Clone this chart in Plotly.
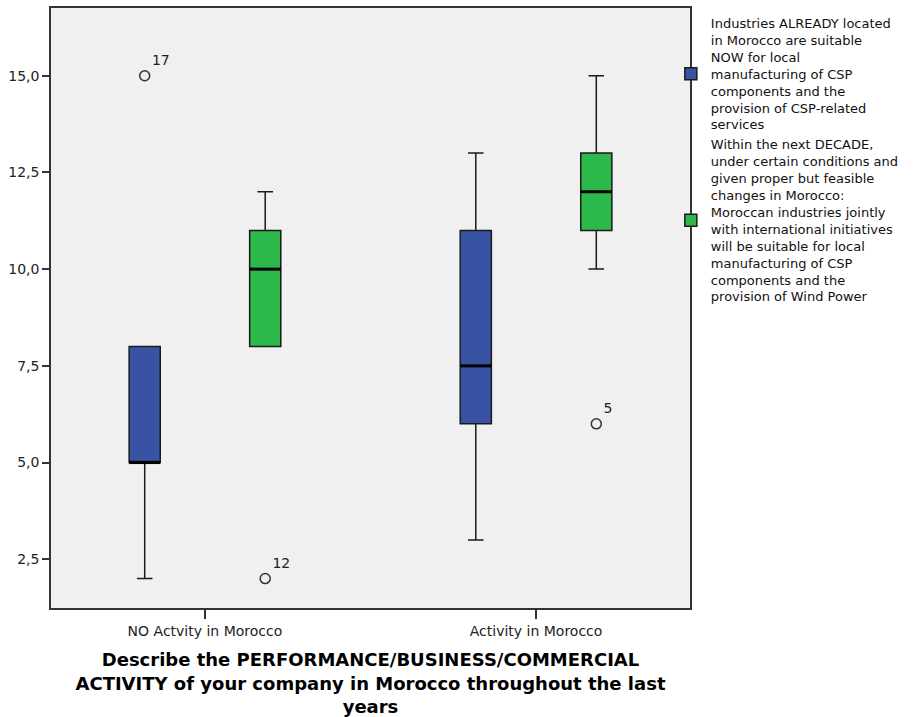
import plotly.graph_objects as go

categories = ["NO Actvity in Morocco", "Activity in Morocco"]
series_names = [
    "Industries ALREADY located<br>in Morocco are suitable<br>NOW for local<br>manufacturing of CSP<br>components and the<br>provision of CSP-related<br>services",
    "Within the next DECADE,<br>under certain conditions and<br>given proper but feasible<br>changes in Morocco:<br>Moroccan industries jointly<br>with international initiatives<br>will be suitable for local<br>manufacturing of CSP<br>components and the<br>provision of Wind Power",
]
colors = ["#3953A4", "#2DB84B"]

# per series: values for [NO activity, Activity]
q1 = [[5, 6], [8, 11]]
median = [[5, 7.5], [10, 12]]
q3 = [[8, 11], [11, 13]]
lower = [[2, 3], [8, 10]]
upper = [[8, 13], [12, 15]]

# outliers: (series index, category index, value, case label)
out_series = [0, 1, 1]
out_cat = [0, 0, 1]
out_val = [15, 2, 6]
out_lab = ["17", "12", "5"]

cat_pos = [0, 1]
offsets = [-0.182, 0.182]
box_w = 0.094

FONT = "DejaVu Sans, Verdana, Arial"

fig = go.Figure()
for s in range(2):
    xs = [cat_pos[c] + offsets[s] for c in range(2)]
    fig.add_trace(go.Box(
        x=xs, q1=q1[s], median=median[s], q3=q3[s],
        lowerfence=lower[s], upperfence=upper[s],
        width=box_w, whiskerwidth=0.5,
        fillcolor=colors[s],
        line=dict(color="#1a1a1a", width=1.5),
        name=series_names[s], boxpoints=False,
        hoverinfo="skip", showlegend=True,
    ))
    # thick median lines
    mx, my = [], []
    for c in range(2):
        xc = cat_pos[c] + offsets[s]
        mx += [xc - box_w / 2, xc + box_w / 2, None]
        my += [median[s][c], median[s][c], None]
    fig.add_trace(go.Scatter(x=mx, y=my, mode="lines",
                             line=dict(color="black", width=3),
                             showlegend=False, hoverinfo="skip"))

ox = [cat_pos[c] + offsets[s] for s, c in zip(out_series, out_cat)]
fig.add_trace(go.Scatter(
    x=ox, y=out_val, mode="markers+text",
    marker=dict(symbol="circle-open", size=10, color="#333333", line=dict(width=1.5)),
    text=out_lab, textposition="top right",
    textfont=dict(family=FONT, size=14, color="#222222"),
    showlegend=False, hoverinfo="skip",
))

fig.update_layout(
    width=914, height=717,
    margin=dict(l=51, r=224, t=8, b=109),
    paper_bgcolor="white", plot_bgcolor="#F0F0F0",
    separators=",.",
    font=dict(family=FONT, size=14, color="#222222"),
    legend=dict(x=0.97, y=1.0, xanchor="left", yanchor="top",
                xref="paper", yref="paper",
                font=dict(family=FONT, size=13, color="#111111"),
                tracegroupgap=0, itemwidth=30,
                bgcolor="rgba(0,0,0,0)", valign="middle"),
    showlegend=True,
)
fig.update_xaxes(
    range=[-0.465, 1.465], tickvals=cat_pos, ticktext=categories,
    ticks="outside", ticklen=9, tickwidth=1.5, tickcolor="#333333",
    showgrid=False, zeroline=False, automargin=False,
    showline=True, linecolor="#333333", linewidth=1.5, mirror=True,
    tickfont=dict(family=FONT, size=14, color="#222222"),
    title=dict(text="<b>Describe the PERFORMANCE/BUSINESS/COMMERCIAL<br>ACTIVITY of your company in Morocco throughout the last<br>years</b>",
               font=dict(family=FONT, size=18, color="black"), standoff=19),
)
fig.update_yaxes(
    range=[1.24, 16.75], tickvals=[2.5, 5, 7.5, 10, 12.5, 15], tickformat=".1f",
    ticks="outside", ticklen=7, tickwidth=1.5, tickcolor="#333333",
    showgrid=False, zeroline=False, automargin=False,
    showline=True, linecolor="#333333", linewidth=1.5, mirror=True,
    tickfont=dict(family=FONT, size=14, color="#222222"),
)

fig.write_html("out.html", config={"displayModeBar": False},
               post_script="document.body.style.margin='0px';")
